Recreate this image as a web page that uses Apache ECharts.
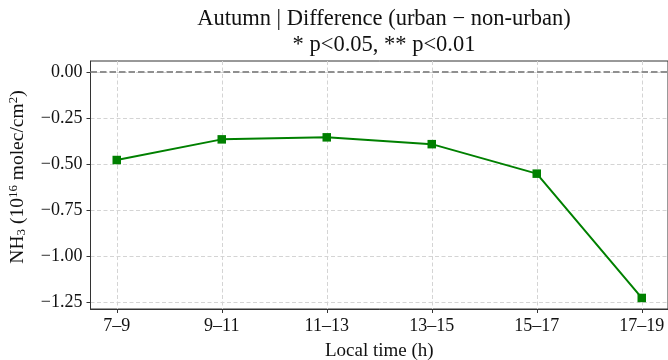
<!DOCTYPE html>
<html>
<head>
<meta charset="utf-8">
<script src="https://cdn.jsdelivr.net/npm/echarts@6/dist/echarts.min.js"></script>
<style>
  html, body { margin: 0; padding: 0; background: #fff; }
  #chart { width: 668px; height: 360px; }
</style>
</head>
<body>
<div id="chart"></div>
<script>
// Time windows (local time) and the urban minus non-urban NH3 column difference
const timeWindows = ['7\u20139', '9\u201311', '11\u201313', '13\u201315', '15\u201317', '17\u201319'];
const nh3Difference = [-0.476, -0.364, -0.353, -0.390, -0.550, -1.224];
const yTicks = [0, -0.25, -0.5, -0.75, -1.0, -1.25];

const FONT = '"Liberation Serif", "DejaVu Serif", serif';
const GREEN = '#008000';

const xIndex = timeWindows.map((_, i) => i);
const points = nh3Difference.map((v, i) => [i, v]);

const fmtY = v => {
  const s = Math.abs(v).toFixed(2);
  return v < -1e-9 ? '\u2212' + s : s;
};

const chart = echarts.init(document.getElementById('chart'), null, { renderer: 'canvas' });

chart.setOption({
  animation: false,
  backgroundColor: '#ffffff',
  title: {
    text: 'Autumn | Difference (urban \u2212 non-urban)\n* p<0.05, ** p<0.01',
    left: 379,
    top: 1,
    textAlign: 'center',
    textStyle: {
      fontFamily: FONT,
      fontSize: 22.5,
      fontWeight: 'normal',
      color: '#111',
      lineHeight: 26
    }
  },
  grid: {
    left: 90.5,
    top: 61,
    width: 577.5,
    height: 248,
    outerBoundsMode: 'none',
    containLabel: false,
    show: true,
    borderColor: '#333',
    borderWidth: 1,
    backgroundColor: 'transparent'
  },
  xAxis: {
    type: 'value',
    min: -0.25,
    max: 5.25,
    name: 'Local time (h)',
    nameLocation: 'middle',
    nameGap: 33,
    nameTextStyle: { fontFamily: FONT, fontSize: 19, color: '#111' },
    axisLine: { show: true, onZero: false, lineStyle: { color: '#333', width: 1 } },
    axisTick: {
      show: true,
      customValues: xIndex,
      length: 4,
      lineStyle: { color: '#333', width: 1 }
    },
    axisLabel: {
      customValues: xIndex,
      margin: 8,
      fontFamily: FONT,
      fontSize: 18,
      color: '#111',
      formatter: v => timeWindows[Math.round(v)]
    },
    splitLine: {
      show: true,
      lineStyle: { color: '#d4d4d4', width: 1, type: [4, 2.5] }
    }
  },
  yAxis: {
    type: 'value',
    min: -1.284,
    max: 0.061,
    name: '{t|NH}{sub|3}{t| (10}{sup|16}{t| molec/cm}{sup|2}{t|)}',
    nameLocation: 'middle',
    nameRotate: 90,
    nameGap: 59,
    nameTextStyle: {
      fontFamily: FONT,
      fontSize: 19,
      color: '#111',
      padding: [0, 0, 0, 16],
      rich: {
        t: { fontFamily: FONT, fontSize: 19.5, color: '#111', lineHeight: 24, verticalAlign: 'middle' },
        sub: { fontFamily: FONT, fontSize: 13, color: '#111', lineHeight: 12, verticalAlign: 'bottom', padding: [0, 0, 2, 0] },
        sup: { fontFamily: FONT, fontSize: 13, color: '#111', lineHeight: 12, verticalAlign: 'top', padding: [1, 0, 0, 0] }
      }
    },
    axisLine: { show: true, onZero: false, lineStyle: { color: '#333', width: 1 } },
    axisTick: {
      show: true,
      customValues: yTicks,
      length: 4,
      lineStyle: { color: '#333', width: 1 }
    },
    axisLabel: {
      customValues: yTicks,
      margin: 8,
      fontFamily: FONT,
      fontSize: 18,
      color: '#111',
      formatter: fmtY
    },
    splitLine: {
      show: true,
      lineStyle: { color: '#d4d4d4', width: 1, type: [4, 2.5] }
    }
  },
  series: [
    {
      type: 'line',
      data: points,
      symbol: 'rect',
      symbolSize: 8.5,
      lineStyle: { color: GREEN, width: 2 },
      itemStyle: { color: GREEN },
      z: 5,
      markLine: {
        silent: true,
        symbol: 'none',
        label: { show: false },
        lineStyle: { color: '#909090', width: 2, type: [6.5, 3] },
        data: [{ yAxis: 0 }],
        z: 3
      }
    }
  ]
});
</script>
</body>
</html>
